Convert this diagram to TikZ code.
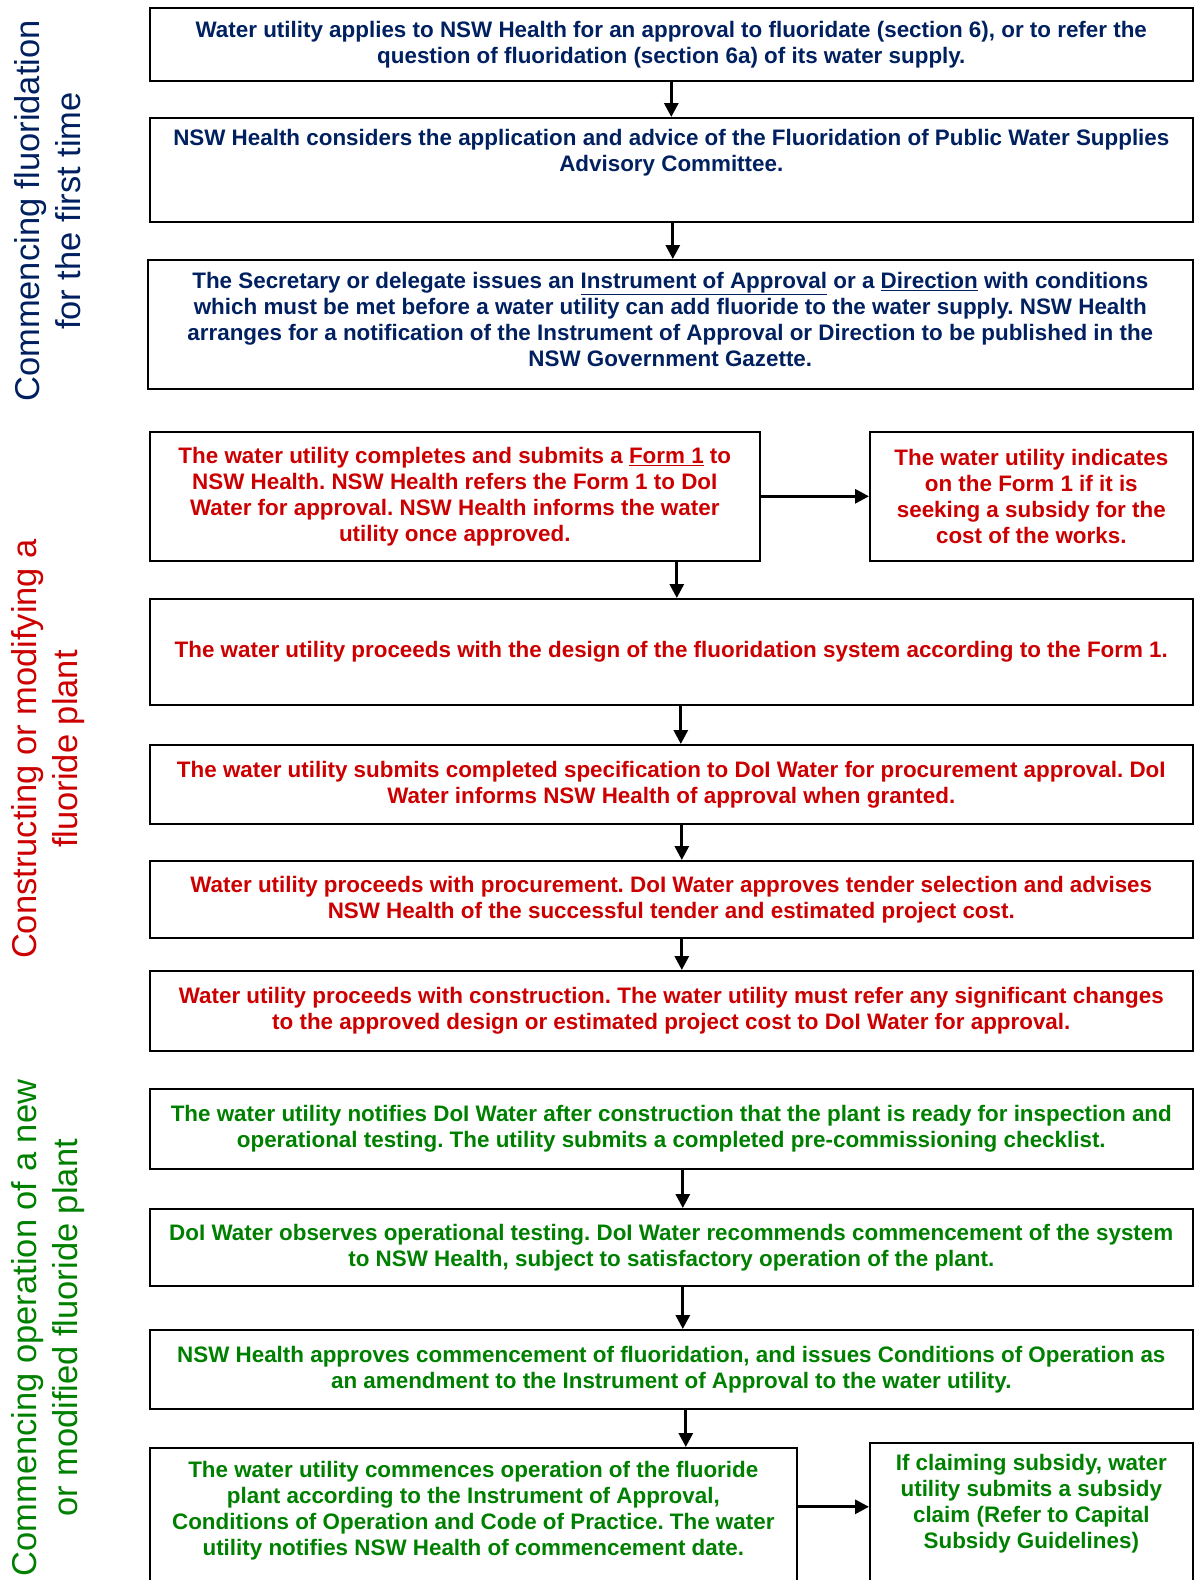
\documentclass[tikz,border=0pt]{standalone}
\usepackage{fontspec}
\setmainfont{Liberation Sans}
\usetikzlibrary{arrows.meta}
\usetikzlibrary{positioning}
\frenchspacing

\definecolor{navyblue}{RGB}{0,32,96}
\definecolor{darkred}{RGB}{204,0,0}
\definecolor{darkgreen}{RGB}{0,128,0}

\begin{document}
\begin{tikzpicture}[x=1pt,y=-1pt,every node/.style={align=center,inner sep=0pt},
  txt/.style={font=\bfseries\fontsize{22.4}{26}\selectfont},
  box/.style={txt,draw=black,line width=1.6pt,anchor=north west},
  side/.style={rotate=90,font=\fontsize{34.5}{41.3}\selectfont},
  arr/.style={line width=3pt,-{Triangle[length=14pt,width=14pt]}}]
  \useasboundingbox (0,0) rectangle (1194,1580);

  % side titles
  \node[side,text=navyblue] (s1) at (48,211) {Commencing fluoridation\\for the first time};
  \node[side,text=darkred] (s2) at (48,749) {Constructing or modifying a\\fluoride plant};
  \node[side,text=darkgreen] (s3) at (48,1328) {Commencing operation of a new\\or modified fluoride plant};

  % first time
  \node[box,text=navyblue,minimum width=1043,minimum height=73] (b1) at (149,7) {Water utility applies to NSW Health for an approval to fluoridate (section 6), or to refer the\\question of fluoridation (section 6a) of its water supply.};
  \node[box,minimum width=1043,minimum height=104] (b2) at (149,117) {};
  \node[txt,text=navyblue,anchor=north] (t2) at ([yshift=-12]b2.north) {NSW Health considers the application and advice of the Fluoridation of Public Water Supplies\\Advisory Committee.};
  \node[box,minimum width=1045,minimum height=129] (b3) at (147,259) {};
  \node[txt,text=navyblue,anchor=north] (t3) at ([yshift=-13]b3.north) {The Secretary or delegate issues an \underline{Instrument of Approval} or a \underline{Direction} with conditions\\which must be met before a water utility can add fluoride to the water supply. NSW Health\\arranges for a notification of the Instrument of Approval or Direction to be published in the\\NSW Government Gazette.};

  % plant
  \node[box,text=darkred,minimum width=610,minimum height=129] (b4) at (149,431) {The water utility completes and submits a \underline{Form 1} to\\NSW Health. NSW Health refers the Form 1 to DoI\\Water for approval. NSW Health informs the water\\utility once approved.};
  \node[box,text=darkred,minimum width=323,minimum height=129] (b5) at (869,431) {The water utility indicates\\on the Form 1 if it is\\seeking a subsidy for the\\cost of the works.};
  \node[box,text=darkred,minimum width=1043,minimum height=106] (b6) at (149,598) {The water utility proceeds with the design of the fluoridation system according to the Form 1.};
  \node[box,text=darkred,minimum width=1043,minimum height=79] (b7) at (149,744) {The water utility submits completed specification to DoI Water for procurement approval. DoI\\Water informs NSW Health of approval when granted.};
  \node[box,text=darkred,minimum width=1043,minimum height=77] (b8) at (149,860) {Water utility proceeds with procurement. DoI Water approves tender selection and advises\\NSW Health of the successful tender and estimated project cost.};
  \node[box,text=darkred,minimum width=1043,minimum height=80] (b9) at (149,970) {Water utility proceeds with construction. The water utility must refer any significant changes\\to the approved design or estimated project cost to DoI Water for approval.};

  % operation
  \node[box,text=darkgreen,minimum width=1043,minimum height=80] (b10) at (149,1088) {The water utility notifies DoI Water after construction that the plant is ready for inspection and\\operational testing. The utility submits a completed pre-commissioning checklist.};
  \node[box,text=darkgreen,minimum width=1043,minimum height=77] (b11) at (149,1208) {DoI Water observes operational testing. DoI Water recommends commencement of the system\\to NSW Health, subject to satisfactory operation of the plant.};
  \node[box,text=darkgreen,minimum width=1043,minimum height=79] (b12) at (149,1329) {NSW Health approves commencement of fluoridation, and issues Conditions of Operation as\\an amendment to the Instrument of Approval to the water utility.};
  \node[box,minimum width=647,minimum height=150] (b13) at (149,1447) {};
  \node[txt,text=darkgreen,anchor=north] (t13) at ([yshift=-14]b13.north) {The water utility commences operation of the fluoride\\plant according to the Instrument of Approval,\\Conditions of Operation and Code of Practice. The water\\utility notifies NSW Health of commencement date.};
  \node[box,minimum width=323,minimum height=155] (b14) at (869,1442) {};
  \node[txt,text=darkgreen,anchor=north] (t14) at ([yshift=-12]b14.north) {If claiming subsidy, water\\utility submits a subsidy\\claim (Refer to Capital\\Subsidy Guidelines)};

  \draw[arr] (b1) -- (b2);
  \draw[arr] ([xshift=1.5]b2.south) -- ([xshift=1.5]b2.south |- b3.north);
  \draw[arr] (b4.east) -- (b5.west);
  \draw[arr] ([xshift=5.5]b6.north |- b4.south) -- ([xshift=5.5]b6.north);
  \draw[arr] ([xshift=9.5]b6.south) -- ([xshift=9.5]b7.north);
  \draw[arr] ([xshift=10.5]b7.south) -- ([xshift=10.5]b8.north);
  \draw[arr] ([xshift=10.5]b8.south) -- ([xshift=10.5]b9.north);
  \draw[arr] ([xshift=11.5]b10.south) -- ([xshift=11.5]b11.north);
  \draw[arr] ([xshift=11.5]b11.south) -- ([xshift=11.5]b12.north);
  \draw[arr] ([xshift=14.5]b12.south) -- ([xshift=14.5]b12.south |- b13.north);
  \draw[arr] ([yshift=16]b13.east) -- ([yshift=16]b13.east -| b14.west);
\end{tikzpicture}
\end{document}
